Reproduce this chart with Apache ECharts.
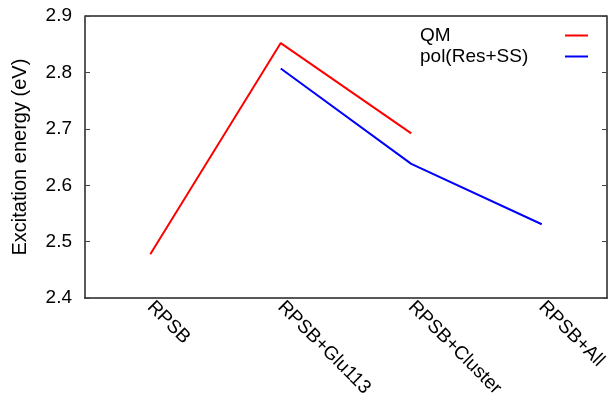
<!DOCTYPE html>
<html>
<head>
<meta charset="utf-8">
<script src="https://cdn.jsdelivr.net/npm/echarts@6/dist/echarts.min.js"></script>
<style>html,body{margin:0;padding:0;background:#fff}#c{width:613px;height:400px}</style>
</head>
<body>
<div id="c"></div>
<script>
const categories = ['RPSB', 'RPSB+Glu113', 'RPSB+Cluster', 'RPSB+All'];
const qmValues = [2.478, 2.852, 2.692, null];
const polValues = [null, 2.807, 2.638, 2.531];
const yTicks = [2.4, 2.5, 2.6, 2.7, 2.8, 2.9];

const font = '"Liberation Sans", Arial, Helvetica, sans-serif';
const chart = echarts.init(document.getElementById('c'), null, {renderer: 'canvas'});
chart.setOption({
  animation: false,
  backgroundColor: '#fff',
  grid: {left: 85, right: 6, top: 16, bottom: 100},
  legend: {
    orient: 'vertical',
    left: 415,
    top: 21,
    align: 'right',
    itemWidth: 23,
    itemHeight: 2,
    itemGap: 2,
    icon: 'rect',
    formatter: '{a|{name}}',
    textStyle: {fontFamily: font, fontSize: 19, color: '#000',
      rich: {a: {width: 140, align: 'left', fontFamily: font, fontSize: 19, lineHeight: 19, color: '#000'}}},
    data: ['QM', 'pol(Res+SS)']
  },
  xAxis: {
    type: 'category',
    data: categories,
    boundaryGap: true,
    axisLine: {lineStyle: {color: '#222', width: 1.5}},
    axisTick: {inside: true, alignWithLabel: true, length: 5, lineStyle: {color: '#444', width: 1}},
    axisLabel: {rotate: -45, margin: 6, fontFamily: font, fontSize: 19, color: '#000', interval: 0}
  },
  yAxis: [{
    type: 'value',
    min: 2.4, max: 2.9, interval: 0.1,
    name: 'Excitation energy (eV)',
    nameLocation: 'middle',
    nameGap: 55,
    nameTextStyle: {fontFamily: font, fontSize: 20, color: '#000'},
    axisLine: {show: true, lineStyle: {color: '#222', width: 1.5}},
    axisTick: {show: true, inside: true, length: 5, lineStyle: {color: '#444', width: 1}},
    splitLine: {show: false},
    axisLabel: {margin: 13, fontFamily: font, fontSize: 19, color: '#000',
      formatter: v => yTicks.includes(+v.toFixed(1)) ? v.toFixed(1) : ''}
  }, {
    type: 'value',
    position: 'right',
    min: 2.4, max: 2.9, interval: 0.1,
    axisLine: {show: true, lineStyle: {color: '#222', width: 1.5}},
    axisTick: {show: true, inside: true, length: 5, lineStyle: {color: '#444', width: 1}},
    axisLabel: {show: false},
    splitLine: {show: false}
  }],
  graphic: [{
    type: 'line', shape: {x1: 85, y1: 16, x2: 607, y2: 16},
    style: {stroke: '#222', lineWidth: 1.5}, silent: true
  }],
  series: [{
    name: 'QM', type: 'line', data: qmValues, symbol: 'none',
    lineStyle: {color: '#ff0000', width: 2}, itemStyle: {color: '#ff0000'}, connectNulls: false
  }, {
    name: 'pol(Res+SS)', type: 'line', data: polValues, symbol: 'none',
    lineStyle: {color: '#0000ff', width: 2}, itemStyle: {color: '#0000ff'}, connectNulls: false
  }]
});
</script>
</body>
</html>
